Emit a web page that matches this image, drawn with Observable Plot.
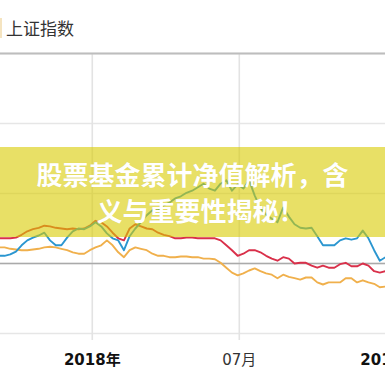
<!DOCTYPE html>
<html><head><meta charset="utf-8">
<script src="https://cdn.jsdelivr.net/npm/d3@7"></script>
<script src="https://cdn.jsdelivr.net/npm/@observablehq/plot@0.6"></script>
<style>
html,body{margin:0;padding:0;background:#fff;overflow:hidden;width:385px;height:385px;}
#wrap{position:relative;width:385px;height:385px;overflow:hidden;}
#head{position:relative;height:45px;}
#title{position:absolute;left:6px;top:17px;font:17px/22px "Noto Sans CJK SC",sans-serif;color:#333;}
#strip{position:absolute;left:0;top:18px;width:2px;height:20px;background:#f5e4c0;}
#banner{position:absolute;left:0;top:147px;width:385px;height:90px;background:rgba(217,203,0,0.6);display:flex;flex-direction:column;justify-content:center;align-items:center;color:#fff;font:700 26px/36px "Noto Sans CJK SC",sans-serif;text-shadow:0 0 1px rgba(0,0,0,0.08);}
</style></head>
<body><div id="wrap"><div id="head"><div id="strip"></div><div id="title">上证指数</div></div><div id="chart"></div><div id="banner"><div>股票基金累计净值解析，含</div><div style="margin-left:16px">义与重要性揭秘！</div></div></div>
<script>
const startDate = "2017-09-08"; // weekly points
const blueValues = [1.1,1.1,1.3,1.7,2.6,3.3,3.7,4.0,4.4,3.3,
 2.6,2.6,3.7,4.6,5.0,4.9,5.3,5.9,5.3,4.3,
 3.6,3.3,1.9,3.9,5.0,5.9,6.9,7.6,7.6,8.3,
 8.7,9.3,9.6,10.1,10.4,10.9,11.4,10.7,10.4,11.4,
 11.9,10.4,11.3,10.7,11.9,9.7,7.9,7.0,6.4,5.9,
 8.0,6.7,5.6,5.1,5.0,5.1,3.9,2.6,2.6,2.6,
 3.3,3.6,3.4,3.6,4.7,3.6,1.9,0.4,0.9];
const redValues = [3.6,3.6,3.6,3.7,4.1,4.6,4.9,5.1,5.4,5.3,
 5.1,5.0,4.9,5.0,4.9,5.0,5.4,6.1,5.9,5.3,
 4.4,3.6,3.3,5.0,5.6,5.3,5.0,4.9,4.4,4.1,
 3.9,3.6,3.6,3.7,3.7,3.6,3.6,3.6,3.6,3.3,
 2.6,1.9,1.1,1.4,1.9,1.9,1.6,1.1,0.7,0.4,
 0.9,0.7,0.0,0.1,0.1,-0.3,-0.6,-0.3,-0.6,-0.6,
 -0.1,0.1,-0.4,-0.4,0.0,-0.3,-1.1,-1.3,-1.1];
const orangeValues = [2.3,2.3,2.1,2.0,1.9,1.9,2.0,2.1,2.3,2.4,
 2.3,2.1,1.9,1.6,1.4,1.4,1.9,2.3,2.6,3.3,
 2.6,1.6,0.9,1.9,2.3,2.1,1.9,1.4,1.1,1.1,
 0.9,0.9,1.0,1.0,0.9,0.9,0.7,0.7,0.6,0.1,
 -0.6,-1.3,-1.7,-1.4,-1.0,-0.7,-1.1,-1.4,-1.6,-2.1,
 -1.6,-1.9,-2.1,-2.3,-2.0,-2.0,-2.7,-3.0,-2.7,-2.7,
 -2.7,-2.1,-2.1,-2.7,-2.4,-2.7,-2.9,-3.4,-3.3];
const gridValues = [30, 20, 10, 0, -10];
const yearTicks = [{date: "2018-01-01", label: "2018年"}, {date: "2019-01-01", label: "2019年"}];
const monthTicks = [{date: "2018-07-01", label: "07月"}];
const xDomain = ["2017-09-10", "2018-12-28"];

const dates = blueValues.map((_, i) => d3.utcDay.offset(new Date(startDate), 7 * i));
const rows = vals => vals.map((v, i) => ({date: dates[i], value: v}));
const tickDates = [...yearTicks, ...monthTicks].map(d => new Date(d.date));

const chart = Plot.plot({
  width: 385, height: 340,
  marginTop: 8, marginBottom: 52, marginLeft: 0, marginRight: 0,
  x: {type: "utc", domain: xDomain.map(d => new Date(d)), axis: null},
  y: {domain: [-10, 30], axis: null},
  style: {fontFamily: '"DejaVu Sans","Noto Sans CJK SC",sans-serif', background: "transparent", overflow: "hidden"},
  marks: [
    Plot.ruleY(gridValues, {stroke: "#e6e6e6", strokeWidth: 1.6}),
    Plot.ruleX(tickDates, {y1: -11, y2: 30, stroke: "#e3e3e3", strokeWidth: 1.6}),
    Plot.ruleY([30], {stroke: "#bdbdbd", strokeWidth: 2}),
    Plot.ruleY([0], {stroke: "#aaaaaa", strokeWidth: 1.6}),
    Plot.line(rows(orangeValues), {x: "date", y: "value", stroke: "#f0b04c", strokeWidth: 1.9}),
    Plot.line(rows(redValues), {x: "date", y: "value", stroke: "#d9304a", strokeWidth: 1.9}),
    Plot.line(rows(blueValues), {x: "date", y: "value", stroke: "#2b96d0", strokeWidth: 1.9}),
    Plot.text(yearTicks, {x: d => new Date(d.date), y: -10, dy: 27, text: "label", fontWeight: "bold", fontSize: 15, fill: "#111"}),
    Plot.text(monthTicks, {x: d => new Date(d.date), y: -10, dy: 27, text: "label", fontSize: 15, fill: "#333"})
  ]
});
document.getElementById("chart").appendChild(chart);
</script>
</body></html>
